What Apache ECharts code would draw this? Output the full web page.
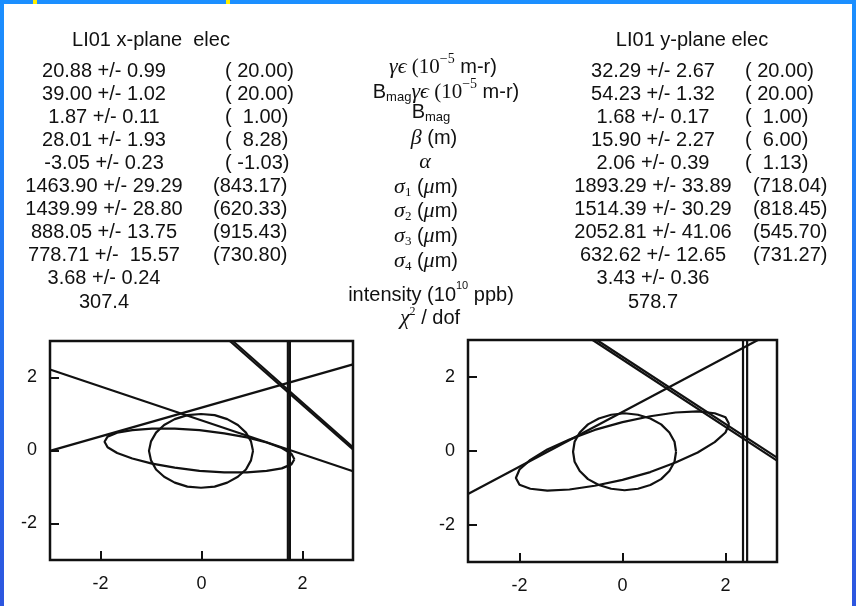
<!DOCTYPE html>
<html>
<head>
<meta charset="utf-8">
<script src="https://cdn.jsdelivr.net/npm/echarts@6/dist/echarts.min.js"></script>
<style>
  html, body { margin: 0; padding: 0; background: #ffffff; }
  #main { width: 856px; height: 606px; }
</style>
</head>
<body>
<div id="main"></div>
<script>
// ---- Fit table: measured value +/- error, design value in parentheses ----
const xPlaneTitle = 'LI01 x-plane  elec';
const yPlaneTitle = 'LI01 y-plane elec';

const xFit = ['20.88 +/- 0.99', '39.00 +/- 1.02', '1.87 +/- 0.11', '28.01 +/- 1.93', '-3.05 +/- 0.23',
  '1463.90 +/- 29.29', '1439.99 +/- 28.80', '888.05 +/- 13.75', '778.71 +/-  15.57', '3.68 +/- 0.24', '307.4'];
const xDesign = ['( 20.00)', '( 20.00)', '(  1.00)', '(  8.28)', '( -1.03)',
  '(843.17)', '(620.33)', '(915.43)', '(730.80)'];

const yFit = ['32.29 +/- 2.67', '54.23 +/- 1.32', '1.68 +/- 0.17', '15.90 +/- 2.27', '2.06 +/- 0.39',
  '1893.29 +/- 33.89', '1514.39 +/- 30.29', '2052.81 +/- 41.06', '632.62 +/- 12.65', '3.43 +/- 0.36', '578.7'];
const yDesign = ['( 20.00)', '( 20.00)', '(  1.00)', '(  6.00)', '(  1.13)',
  '(718.04)', '(818.45)', '(545.70)', '(731.27)'];

// Parameter names (rich-text markup for Greek letters, sub- and superscripts)
const paramNames = [
  '{g|γϵ}{t| (10}{sup|−5}{a| m-r)}',
  '{a|B}{sub|mag}{g|γϵ}{t| (10}{sup|−5}{a| m-r)}',
  '{a|B}{sub|mag}',
  '{g|β}{a| (m)}',
  '{g|α}',
  '{g|σ}{tsub|1}{a| (}{g|μ}{a|m)}',
  '{g|σ}{tsub|2}{a| (}{g|μ}{a|m)}',
  '{g|σ}{tsub|3}{a| (}{g|μ}{a|m)}',
  '{g|σ}{tsub|4}{a| (}{g|μ}{a|m)}',
  '{a|intensity (10}{asup|10}{a| ppb)}',
  '{g|χ}{tsup|2}{a| / dof}'
];

// ---- Normalized phase space (x̂, p̂) ----
const axisTicks = [-2, 0, 2];

// x plane: measured ellipse and design ellipse
const xMeasured = [[1.84,-0.24],[1.78,-0.38],[1.59,-0.49],[1.29,-0.56],[0.90,-0.60],[0.45,-0.60],[-0.04,-0.56],
  [-0.53,-0.47],[-0.98,-0.36],[-1.37,-0.22],[-1.67,-0.07],[-1.86,0.09],[-1.92,0.24],[-1.86,0.38],[-1.67,0.49],
  [-1.37,0.56],[-0.98,0.60],[-0.53,0.60],[-0.04,0.56],[0.45,0.47],[0.90,0.36],[1.29,0.22],[1.59,0.07],
  [1.78,-0.09],[1.84,-0.24]];
const xDesignEllipse = [[1.02,-0.01],[0.98,0.25],[0.88,0.49],[0.72,0.70],[0.51,0.86],[0.26,0.97],[-0.01,1.00],
  [-0.28,0.97],[-0.53,0.86],[-0.74,0.70],[-0.90,0.49],[-1.00,0.25],[-1.04,-0.01],[-1.00,-0.27],[-0.90,-0.52],
  [-0.74,-0.72],[-0.53,-0.88],[-0.28,-0.99],[-0.01,-1.02],[0.26,-0.99],[0.51,-0.88],[0.72,-0.72],[0.88,-0.52],
  [0.98,-0.27],[1.02,-0.01]];
// x plane: wire-scanner constraint lines (end points)
const xWires = [
  [[-3, 2.22], [3, -0.57]],
  [[-3, -0.01], [3, 2.36]],
  [[0.56, 3], [3, 0.03]],
  [[0.62, 3], [3, 0.09]],
  [[1.71, 3], [1.71, -3]],
  [[1.75, 3], [1.75, -3]]
];

// y plane: measured ellipse and design ellipse
const yMeasured = [[2.07,0.73],[2.00,0.50],[1.79,0.24],[1.46,-0.04],[1.03,-0.31],[0.54,-0.57],[0,-0.78],
  [-0.54,-0.94],[-1.03,-1.04],[-1.46,-1.07],[-1.79,-1.02],[-2.00,-0.91],[-2.07,-0.73],[-2.00,-0.50],
  [-1.79,-0.24],[-1.46,0.04],[-1.03,0.31],[-0.54,0.57],[0,0.78],[0.54,0.94],[1.03,1.04],[1.46,1.07],
  [1.79,1.02],[2.00,0.91],[2.07,0.73]];
const yDesignEllipse = [[1.04,-0.02],[1.01,0.25],[0.91,0.50],[0.75,0.72],[0.54,0.88],[0.30,0.98],[0.04,1.02],
  [-0.22,0.98],[-0.46,0.88],[-0.67,0.72],[-0.83,0.50],[-0.93,0.25],[-0.96,-0.02],[-0.93,-0.29],[-0.83,-0.54],
  [-0.67,-0.76],[-0.46,-0.92],[-0.22,-1.02],[0.04,-1.06],[0.30,-1.02],[0.54,-0.92],[0.75,-0.76],[0.91,-0.54],
  [1.01,-0.29],[1.04,-0.02]];
const yWires = [
  [[-3, -1.16], [2.63, 3]],
  [[-0.58, 3], [3, -0.26]],
  [[-0.50, 3], [3, -0.18]],
  [[2.34, 3], [2.34, -3]],
  [[2.42, 3], [2.42, -3]]
];

// ---- Styling / layout ----
const INK = '#111111';
const SANS = '"Liberation Sans", Arial, sans-serif';
const SERIF = '"Liberation Serif", "Times New Roman", serif';

const rich = {
  g:    { fontFamily: SERIF, fontStyle: 'italic', fontSize: 22, lineHeight: 30, fill: INK },
  t:    { fontFamily: SERIF, fontSize: 21, lineHeight: 30, fill: INK },
  a:    { fontFamily: SANS, fontSize: 20, lineHeight: 30, fill: INK },
  sup:  { fontFamily: SERIF, fontSize: 14, lineHeight: 14, verticalAlign: 'top', fill: INK },
  asup: { fontFamily: SANS, fontSize: 11, lineHeight: 12, verticalAlign: 'top', fill: INK },
  tsup: { fontFamily: SERIF, fontSize: 12, lineHeight: 12, verticalAlign: 'top', padding: [3, 0, 0, 0], fill: INK },
  sub:  { fontFamily: SANS, fontSize: 13, lineHeight: 13, verticalAlign: 'bottom', padding: [0, 0, 3, 0], fill: INK },
  tsub: { fontFamily: SERIF, fontSize: 13, lineHeight: 13, verticalAlign: 'bottom', padding: [0, 0, 3, 0], fill: INK }
};

const rowTop = 71, rowStep = 23.1;
const midX = [443, 446, 431, 434, 425, 426, 426, 426, 426, 431, 430];
const midY = [67, 92, 112, 138, 162, 187, 211, 236, 261, 295, 318];

function textEl(str, x, y, align) {
  return {
    type: 'text', x: x, y: y, z: 10, silent: true,
    style: { text: str, font: '20px ' + SANS, fill: INK, align: align || 'center', verticalAlign: 'middle' }
  };
}

const graphics = [
  { type: 'rect', z: -5, silent: true, shape: { x: 4, y: 4, width: 848, height: 602 }, style: { fill: '#ffffff' } },
  { type: 'rect', z: -4, silent: true, shape: { x: 33, y: 0, width: 4, height: 4 }, style: { fill: '#ffee00' } },
  { type: 'rect', z: -4, silent: true, shape: { x: 226, y: 0, width: 4, height: 4 }, style: { fill: '#ffee00' } },
  textEl(xPlaneTitle, 151, 40),
  textEl(yPlaneTitle, 692, 40)
];
xFit.forEach((s, i) => graphics.push(textEl(s, 104, rowTop + i * rowStep)));
xDesign.forEach((s, i) => graphics.push(textEl(s, i < 5 ? 225 : 213, rowTop + i * rowStep, 'left')));
yFit.forEach((s, i) => graphics.push(textEl(s, 653, rowTop + i * rowStep)));
yDesign.forEach((s, i) => graphics.push(textEl(s, i < 5 ? 745 : 753, rowTop + i * rowStep, 'left')));
paramNames.forEach((s, i) => graphics.push({
  type: 'text', x: midX[i], y: midY[i], z: 10, silent: true,
  style: { text: s, rich: rich, font: '20px ' + SANS, lineHeight: 30, fill: INK, align: 'center', verticalAlign: 'middle' }
}));

function axisPair(idx) {
  const common = {
    gridIndex: idx, type: 'value', min: -3, max: 3,
    splitLine: { show: false },
    axisLine: { show: false, onZero: false },
    axisTick: { show: true, inside: true, length: 9, customValues: axisTicks, lineStyle: { color: INK, width: 2 } },
    axisLabel: { customValues: axisTicks, color: INK, fontSize: 18, fontFamily: SANS }
  };
  return {
    x: Object.assign({}, common, { position: 'bottom', axisLabel: Object.assign({}, common.axisLabel, { margin: 15 }) }),
    y: Object.assign({}, common, { position: 'left', axisLabel: Object.assign({}, common.axisLabel, { margin: 13 }) })
  };
}
const ax0 = axisPair(0), ax1 = axisPair(1);

function curve(data, gi, width) {
  return {
    type: 'line', data: data, xAxisIndex: gi, yAxisIndex: gi,
    showSymbol: false, symbol: 'none', silent: true, clip: true, smooth: false,
    lineStyle: { color: INK, width: width || 2.2 }
  };
}

const series = [
  curve(xMeasured, 0), curve(xDesignEllipse, 0),
  ...xWires.map(w => curve(w, 0)),
  curve(yMeasured, 1), curve(yDesignEllipse, 1),
  ...yWires.map(w => curve(w, 1))
];

const chart = echarts.init(document.getElementById('main'), null, { renderer: 'canvas' });
chart.setOption({
  animation: false,
  backgroundColor: {
    type: 'linear', x: 0, y: 0, x2: 0, y2: 1,
    colorStops: [{ offset: 0, color: '#1b8fff' }, { offset: 1, color: '#2d56df' }]
  },
  grid: [
    { left: 50, top: 341, width: 303, height: 219, show: true, borderColor: INK, borderWidth: 2.5, backgroundColor: 'transparent' },
    { left: 468, top: 340, width: 309, height: 222, show: true, borderColor: INK, borderWidth: 2.5, backgroundColor: 'transparent' }
  ],
  xAxis: [ax0.x, ax1.x],
  yAxis: [ax0.y, ax1.y],
  graphic: { elements: graphics },
  series: series
});
</script>
</body>
</html>
